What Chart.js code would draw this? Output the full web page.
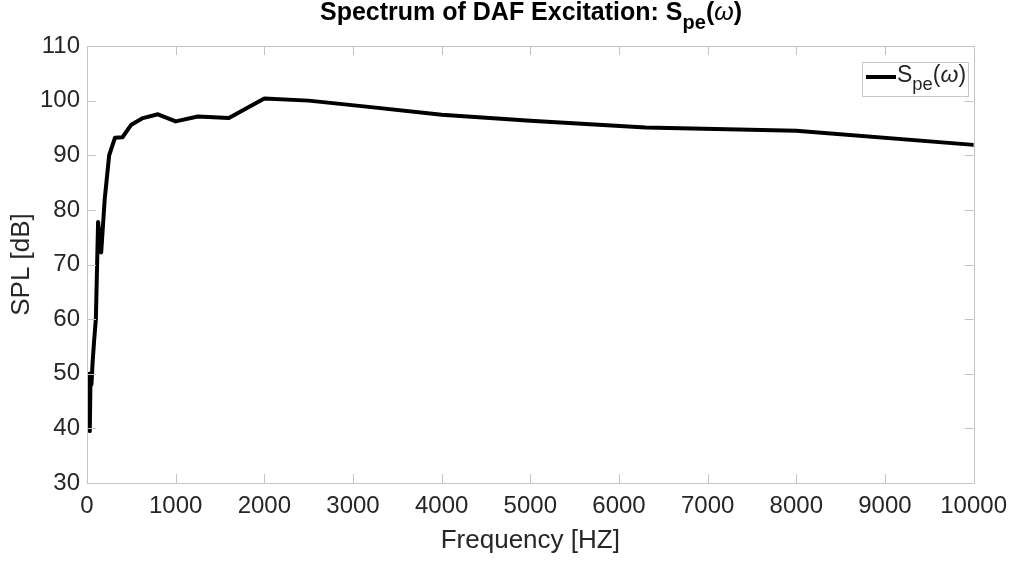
<!DOCTYPE html>
<html>
<head>
<meta charset="utf-8">
<script src="https://cdn.jsdelivr.net/npm/chart.js@4.4.1/dist/chart.umd.min.js"></script>
<style>
  html, body { margin: 0; padding: 0; background: #fff; }
  #wrap { position: relative; width: 1016px; height: 561px; font-family: "Liberation Sans", Arial, sans-serif; }
  #c { position: absolute; left: 0; top: 0; }
  #title { position: absolute; left: 0; width: 1016px; top: -3px; text-align: center; font-weight: bold; font-size: 25px; color: #000; padding-left: 87px; padding-right: 41px; box-sizing: border-box; white-space: nowrap; }
  #title sub, #legend sub { font-size: 0.8em; vertical-align: -0.45em; line-height: 0; }
  #legend { position: absolute; left: 862px; top: 62px; width: 107px; height: 35px; border: 1px solid #c8c8c8; background: #fff; box-sizing: border-box; font-size: 23px; color: #262626; }
  #legend .swatch { position: absolute; left: 3px; top: 12px; width: 30px; height: 4px; background: #000; }
  #legend .txt { position: absolute; left: 34px; top: -2px; white-space: nowrap; }
</style>
</head>
<body>
<div id="wrap">
  <canvas id="c" width="1016" height="561"></canvas>
  <div id="title">Spectrum of DAF Excitation: S<sub>pe</sub>(<i style="font-weight:normal">ω</i>)</div>
  <div id="legend"><div class="swatch"></div><div class="txt">S<sub>pe</sub>(<i>ω</i>)</div></div>
</div>
<script>
// 1/3-octave band centre frequencies [Hz]
const frequencies = [20, 25, 31.5, 40, 50, 63, 80, 100, 125, 160, 200, 250, 315, 400, 500, 630, 800, 1000, 1250, 1600, 2000, 2500, 3150, 4000, 5000, 6300, 8000, 10000];
// SPL values [dB]
const splValues = [43, 50, 39.5, 49.5, 48, 52, 56, 60, 77.8, 72.2, 82, 90, 93.2, 93.3, 95.6, 96.8, 97.5, 96.2, 97.1, 96.8, 100.4, 100.0, 98.9, 97.4, 96.3, 95.1, 94.5, 91.9];
const xTicks = [0, 1000, 2000, 3000, 4000, 5000, 6000, 7000, 8000, 9000, 10000];
const yTicks = [30, 40, 50, 60, 70, 80, 90, 100, 110];
const seriesLabel = "S_pe(ω)";

const points = frequencies.map((f, i) => ({ x: f, y: splValues[i] }));

const AXIS_COLOR = '#c4c4c4';
const TEXT_COLOR = '#262626';

const boxTicks = {
  id: 'boxTicks',
  afterDraw(chart) {
    const { ctx, chartArea: a, scales } = chart;
    ctx.save();
    ctx.strokeStyle = AXIS_COLOR;
    ctx.lineWidth = 1;
    ctx.beginPath();
    ctx.rect(Math.round(a.left) + 0.5, Math.round(a.top) + 0.5, Math.round(a.right - a.left), Math.round(a.bottom - a.top));
    ctx.stroke();
    const tl = 9;
    ctx.beginPath();
    xTicks.forEach(v => {
      const px = Math.round(scales.x.getPixelForValue(v)) + 0.5;
      ctx.moveTo(px, a.bottom); ctx.lineTo(px, a.bottom - tl);
      ctx.moveTo(px, a.top); ctx.lineTo(px, a.top + tl);
    });
    yTicks.forEach(v => {
      const py = Math.round(scales.y.getPixelForValue(v)) + 0.5;
      ctx.moveTo(a.left, py); ctx.lineTo(a.left + tl, py);
      ctx.moveTo(a.right, py); ctx.lineTo(a.right - tl, py);
    });
    ctx.stroke();
    ctx.restore();
  }
};

new Chart(document.getElementById('c'), {
  type: 'scatter',
  data: {
    datasets: [{
      label: seriesLabel,
      data: points,
      showLine: true,
      borderColor: '#000',
      backgroundColor: '#000',
      borderWidth: 4,
      pointRadius: 0,
      tension: 0,
      borderJoinStyle: 'round',
      borderCapStyle: 'round'
    }]
  },
  options: {
    responsive: false,
    animation: false,
    layout: { padding: { top: 46, right: 41, left: 0, bottom: 0 } },
    plugins: { legend: { display: false }, title: { display: false }, tooltip: { enabled: false } },
    scales: {
      x: {
        type: 'linear', min: 0, max: 10000,
        afterBuildTicks: s => { s.ticks = xTicks.map(v => ({ value: v })); },
        grid: { display: false, drawTicks: false },
        border: { display: false },
        ticks: { color: TEXT_COLOR, font: { family: 'Liberation Sans', size: 24 }, padding: 9, maxRotation: 0, autoSkip: false, callback: v => String(v) },
        title: { display: true, text: 'Frequency [HZ]', color: TEXT_COLOR, font: { family: 'Liberation Sans', size: 26 }, padding: { top: 0, bottom: 5 } },
        afterFit: s => { s.height = 78; }
      },
      y: {
        type: 'linear', min: 30, max: 110,
        afterBuildTicks: s => { s.ticks = yTicks.map(v => ({ value: v })); },
        grid: { display: false, drawTicks: false },
        border: { display: false },
        ticks: { color: TEXT_COLOR, font: { family: 'Liberation Sans', size: 24 }, padding: 7, autoSkip: false, callback: v => String(v) },
        title: { display: true, text: 'SPL [dB]', color: TEXT_COLOR, font: { family: 'Liberation Sans', size: 26 }, padding: { top: 6, bottom: 0 } },
        afterFit: s => { s.width = 87; }
      }
    }
  },
  plugins: [boxTicks]
});
</script>
</body>
</html>
